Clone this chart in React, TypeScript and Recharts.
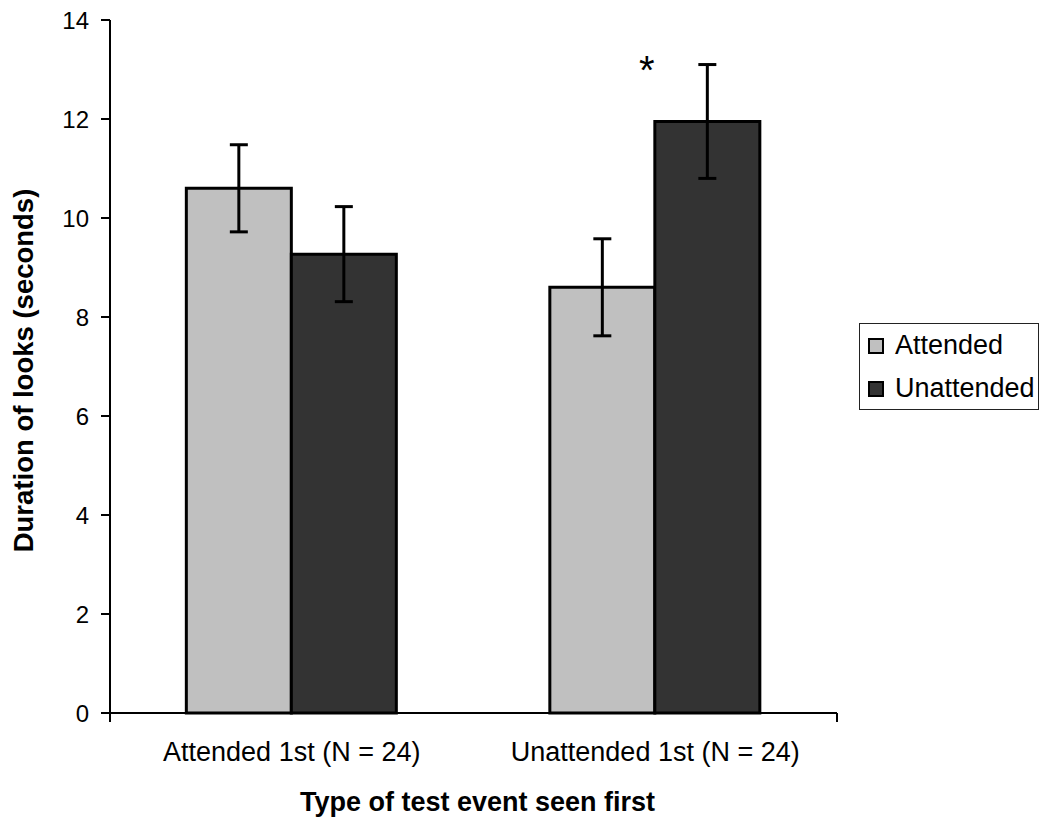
import React from 'react';
import { BarChart, Bar, XAxis, YAxis, ErrorBar, Legend, Label, LabelList } from 'recharts';

const FONT = '"Liberation Sans", Arial, Helvetica, sans-serif';

const groups = ['Attended 1st (N = 24)', 'Unattended 1st (N = 24)'];
const attendedMeans = [10.6, 8.6];
const attendedErrors = [0.88, 0.98];
const unattendedMeans = [9.27, 11.95];
const unattendedErrors = [0.96, 1.15];
const significance = ['', '*'];
const seriesNames = ['Attended', 'Unattended'];
const yTicks = [0, 2, 4, 6, 8, 10, 12, 14];
const groupBoundaries = [0, 1, 2];
const xTitle = 'Type of test event seen first';
const yTitle = 'Duration of looks (seconds)';

const data = groups.map((g, i) => ({
  group: g,
  attended: attendedMeans[i],
  attendedErr: attendedErrors[i],
  unattended: unattendedMeans[i],
  unattendedErr: unattendedErrors[i],
  sig: significance[i],
}));

const EmptyTick = () => <g />;

const XTick = (props: any) => {
  const { x, y, payload } = props;
  return (
    <text x={x} y={y + 47} textAnchor="middle" fontSize={27} fontFamily={FONT} fill="#000">
      {payload.value}
    </text>
  );
};

const XTitle = (props: any) => {
  const vb = props.viewBox || { x: 110, y: 714, width: 727, height: 59 };
  return (
    <text
      x={vb.x + vb.width / 2 + 4}
      y={vb.y + 97}
      textAnchor="middle"
      fontSize={27}
      fontWeight="bold"
      fontFamily={FONT}
      fill="#000"
    >
      {xTitle}
    </text>
  );
};

const YTitle = (props: any) => {
  const vb = props.viewBox || { x: 0, y: 20, width: 110, height: 693 };
  const x = vb.x + 33;
  const cy = vb.y + vb.height / 2 + 4;
  return (
    <text
      x={x}
      y={cy}
      transform={`rotate(-90, ${x}, ${cy})`}
      textAnchor="middle"
      fontSize={27.5}
      fontWeight="bold"
      fontFamily={FONT}
      fill="#000"
    >
      {yTitle}
    </text>
  );
};

const SigLabel = (props: any) => {
  const { x, y, value } = props;
  if (!value) return null;
  return (
    <text x={x - 8} y={y - 37} textAnchor="middle" fontSize={40} fontFamily={FONT} fill="#000">
      {value}
    </text>
  );
};

const LegendBox = (props: any) => {
  const items = props.payload || [];
  return (
    <div
      style={{
        width: 180,
        height: 87,
        boxSizing: 'border-box',
        border: '1.5px solid #222',
        background: '#fff',
        fontFamily: FONT,
      }}
    >
      {items.map((it: any) => (
        <div key={it.value} style={{ display: 'flex', alignItems: 'center', height: 43 }}>
          <span
            style={{
              display: 'inline-block',
              width: 16,
              height: 16,
              boxSizing: 'border-box',
              border: '2px solid #000',
              background: it.color,
              marginLeft: 8,
              marginRight: 11,
            }}
          />
          <span style={{ fontSize: 27, lineHeight: '27px', color: '#000' }}>{it.value}</span>
        </div>
      ))}
    </div>
  );
};

export default function App() {
  return (
    <div style={{ position: 'absolute', left: 0, top: 0, width: 1050, height: 830, background: '#fff' }}>
      <BarChart
        width={1050}
        height={830}
        data={data}
        margin={{ top: 20, right: 213, bottom: 57, left: 0 }}
        barCategoryGap="21%"
        barGap={0}
      >
        <XAxis
          xAxisId="a_frame"
          type="number"
          domain={[0, 2]}
          ticks={groupBoundaries}
          allowDataOverflow
          tick={<EmptyTick />}
          tickSize={9}
          height={1}
          axisLine={{ stroke: '#000', strokeWidth: 2 }}
          tickLine={{ stroke: '#000', strokeWidth: 2 }}
        />
        <XAxis
          xAxisId="b_cat"
          dataKey="group"
          type="category"
          height={59}
          axisLine={false}
          tickLine={false}
          tickSize={0}
          tickMargin={0}
          interval={0}
          tick={<XTick />}
        >
          <Label content={XTitle} />
        </XAxis>
        <YAxis
          width={110}
          domain={[0, 14]}
          ticks={yTicks}
          interval={0}
          tickSize={9}
          tickMargin={12}
          tick={{ fontSize: 24, fill: '#000', fontFamily: FONT }}
          axisLine={{ stroke: '#000', strokeWidth: 2 }}
          tickLine={{ stroke: '#000', strokeWidth: 2 }}
        >
          <Label content={YTitle} />
        </YAxis>
        <Legend
          content={<LegendBox />}
          layout="vertical"
          align="center"
          verticalAlign="middle"
          wrapperStyle={{ left: 859, top: 323, width: 180, height: 87 }}
        />
        <Bar
          xAxisId="b_cat"
          dataKey="attended"
          name={seriesNames[0]}
          fill="#c0c0c0"
          stroke="#000"
          strokeWidth={3}
          isAnimationActive={false}
        >
          <ErrorBar dataKey="attendedErr" width={9} stroke="#000" strokeWidth={3} direction="y" isAnimationActive={false} />
        </Bar>
        <Bar
          xAxisId="b_cat"
          dataKey="unattended"
          name={seriesNames[1]}
          fill="#333333"
          stroke="#000"
          strokeWidth={3}
          isAnimationActive={false}
        >
          <ErrorBar dataKey="unattendedErr" width={9} stroke="#000" strokeWidth={3} direction="y" isAnimationActive={false} />
          <LabelList dataKey="sig" content={SigLabel} />
        </Bar>
      </BarChart>
    </div>
  );
}
